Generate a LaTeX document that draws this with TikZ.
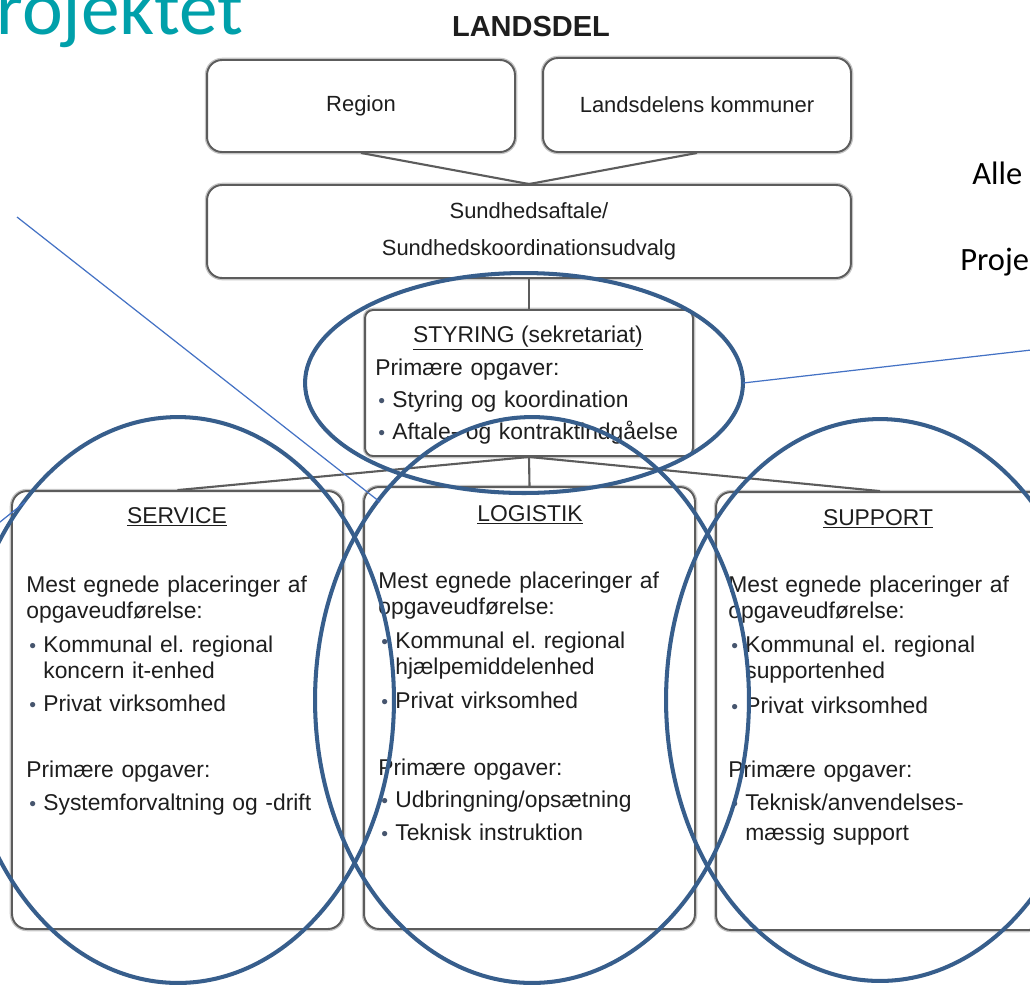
\documentclass[tikz,border=0pt]{standalone}
\usepackage{fontspec}
\setmainfont{Liberation Sans}
\newfontfamily\carlito{Carlito}
\usepackage{xcolor}
\usepackage{tikz}

\definecolor{boxgray}{RGB}{92,92,92}
\definecolor{textc}{RGB}{30,30,30}
\definecolor{tealc}{RGB}{0,160,170}
\definecolor{ellblue}{RGB}{55,94,140}
\definecolor{linkblue}{RGB}{68,114,196}
\definecolor{bulletc}{RGB}{70,85,110}

\newcommand{\bulitem}{\hspace*{0.06cm}\makebox[0.28cm][l]{\textcolor{bulletc}{\fontsize{11}{11}\selectfont\textbullet}}}
\newcommand{\contline}{\hspace*{0.34cm}}

\begin{document}
\begin{tikzpicture}[x=0.02cm, y=-0.02cm,
  box/.style={draw=boxgray, line width=1.1pt, rounded corners=0.3cm, fill=white, inner sep=0pt,
    preaction={draw=boxgray!35, line width=2.6pt}},
  conn/.style={draw=boxgray, line width=1.2pt},
  toptext/.style={font=\fontsize{12.5}{21}\selectfont, text=textc, align=center},
  titletext/.style={font=\fontsize{13}{15}\selectfont, text=textc, anchor=base, inner sep=0pt},
  bodytext/.style={font=\fontsize{13}{14.74}\selectfont, text=textc, anchor=north west, inner sep=0pt, text width=6.4cm, align=left},
  ring/.style={draw=ellblue, line width=2.3pt},
  pointer/.style={draw=linkblue, line width=0.7pt}]

\useasboundingbox (0,0) rectangle (1030,985);
\clip (0,0) rectangle (1030,985);


% Heading and side texts
\path
(-4,34) node[anchor=base west, inner sep=0pt, text=tealc, font=\carlito\fontsize{44}{44}\selectfont] (heading) {rojektet}
(531,36) node[anchor=base, inner sep=0pt, text=textc, font=\bfseries\fontsize{16.5}{18}\selectfont] (landsdel) {LANDSDEL}
(972,184) node[anchor=base west, inner sep=0pt, font=\carlito\fontsize{18.5}{20}\selectfont] (alle) {Alle}
(960,270) node[anchor=base west, inner sep=0pt, font=\carlito\fontsize{18.5}{20}\selectfont] (proje) {Proje};


% Top level boxes
\node[box, toptext, minimum width=6.16cm, minimum height=1.84cm] (region) at (361,106) {Region};
\node[box, toptext, minimum width=6.16cm, minimum height=1.88cm] (kommuner) at (697,105) {Landsdelens kommuner};
\node[box, toptext, minimum width=12.88cm, minimum height=1.86cm] (sundhed) at (529,231.5) {Sundhedsaftale/\\Sundhedskoordinationsudvalg};

\draw[conn] (region.south) -- (sundhed.north);
\draw[conn] (kommuner.south) -- (sundhed.north);


% Styring box
\node[box, rounded corners=0.16cm, minimum width=6.56cm, minimum height=2.92cm] (styring) at (529,383) {};
\draw[conn] (sundhed.south) -- (styring.north);

\path
(528,342) node[titletext] (styringtitle) {\underline{STYRING (sekretariat)}}
(375,358.5) node[bodytext] (styringbody) {Primære opgaver:\\[0.12cm]
\bulitem Styring og koordination\\[0.12cm]
\bulitem Aftale- og kontraktindgåelse};


% Service, logistik and support boxes
\node[box, minimum width=6.62cm, minimum height=8.76cm] (service) at (177.5,710) {};
\node[box, minimum width=6.62cm, minimum height=8.84cm] (logistik) at (529.5,708) {};
\node[box, minimum width=6.56cm, minimum height=8.76cm] (support) at (880,711) {};

\draw[conn] (styring.south) -- (service.north);
\draw[conn] (styring.south) -- (logistik.north);
\draw[conn] (styring.south) -- (support.north);

\path
(177,523) node[titletext] (servicetitle) {\underline{SERVICE}}
(26,575.5) node[bodytext] (servicebody) {Mest egnede placeringer af\\
opgaveudførelse:\\[0.16cm]
\bulitem Kommunal el.\ regional\\
\contline koncern it-enhed\\[0.14cm]
\bulitem Privat virksomhed\\[0.82cm]
Primære opgaver:\\[0.14cm]
\bulitem Systemforvaltning og -drift};

\path
(530,521) node[titletext] (logistiktitle) {\underline{LOGISTIK}}
(378,571.5) node[bodytext] (logistikbody) {Mest egnede placeringer af\\
opgaveudførelse:\\[0.16cm]
\bulitem Kommunal el.\ regional\\
\contline hjælpemiddelenhed\\[0.16cm]
\bulitem Privat virksomhed\\[0.84cm]
Primære opgaver:\\[0.12cm]
\bulitem Udbringning/opsætning\\[0.14cm]
\bulitem Teknisk instruktion};

\path
(878,525) node[titletext] (supporttitle) {\underline{SUPPORT}}
(728,575.5) node[bodytext] (supportbody) {Mest egnede placeringer af\\
opgaveudførelse:\\[0.16cm]
\bulitem Kommunal el.\ regional\\
\contline supportenhed\\[0.18cm]
\bulitem Privat virksomhed\\[0.78cm]
Primære opgaver:\\[0.14cm]
\bulitem Teknisk/anvendelses-\\[0.08cm]
\contline mæssig support};


% Blue rings
\draw[ring] (524,383) ellipse [x radius=4.38cm, y radius=2.2cm];
\draw[ring] (178,700) ellipse [x radius=4.32cm, y radius=5.66cm];
\draw[ring] (532,700) ellipse [x radius=4.34cm, y radius=5.66cm];
\draw[ring] (880,700) ellipse [x radius=4.28cm, y radius=5.62cm];


% Thin pointer lines
\coordinate (pa) at (17,217);
\coordinate (pb) at (380,502);
\coordinate (pc) at (-10,530);
\coordinate (pd) at (25,502);
\coordinate (pe) at (743,383);
\coordinate (pf) at (1040,349);
\draw[pointer] (pa) -- (pb);
\draw[pointer] (pc) -- (pd);
\draw[pointer] (pe) -- (pf);

\end{tikzpicture}
\end{document}
